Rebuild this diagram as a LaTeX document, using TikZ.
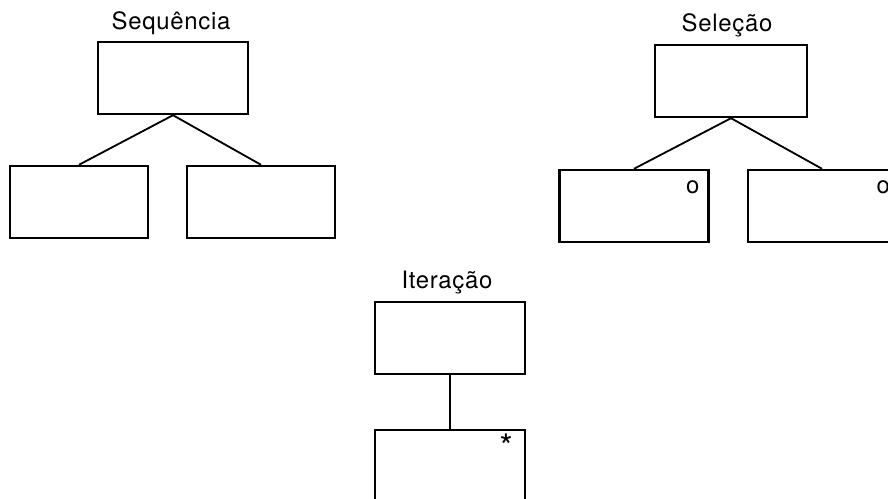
\documentclass[tikz,border=0pt]{standalone}
\usepackage{fontspec}
\setmainfont{TeX Gyre Heros}

\tikzset{
  modulo/.style={draw,line width=1.7pt,minimum width=3.75cm,minimum height=1.8cm,inner sep=0pt},
  ligacao/.style={line width=1.3pt},
  titulo/.style={anchor=base,inner sep=0pt,font=\fontsize{17}{20}\selectfont\addfontfeature{LetterSpace=3}},
  marca/.style={inner sep=0pt,font=\fontsize{17}{20}\selectfont}
}

\begin{document}
\begin{tikzpicture}[x=0.025cm,y=-0.025cm]
        \useasboundingbox (0,0) rectangle (888,499);
        \clip (0,0) rectangle (888,499);

        % Sequencia
        \node[titulo] (tseq) at (171,30) {Sequência};
        \node[modulo] (seq) at (173,78) {};
        \node[modulo,minimum width=3.45cm] (seq1) at (79,202) {};
        \node[modulo,minimum width=3.7cm] (seq2) at (261,202) {};
        \draw[ligacao] (seq.south) -- (seq1.north);
        \draw[ligacao] (seq.south) -- (seq2.north);

        % Selecao
        \node[titulo] (tsel) at (727,32) {Seleção};
        \node[modulo,minimum width=3.8cm] (sel) at (731,81) {};
        \node[modulo,minimum width=3.725cm] (sel1) at (634,206) {};
        \node[modulo,minimum width=3.7cm] (sel2) at (822,206) {};
        \draw[ligacao] (sel.south) -- (sel1.north);
        \draw[ligacao] (sel.south) -- (sel2.north);
        \node[marca] (osel1) at ([shift={(-17,18)}]sel1.north east) {o};
        \node[marca] (osel2) at ([shift={(-14,18)}]sel2.north east) {o};

        % Iteracao
        \node[titulo] (tit) at (447,288) {Iteração};
        \node[modulo] (it) at (450,338) {};
        \node[modulo] (it1) at (450,466) {};
        \draw[ligacao] (it.south) -- (it1.north);
        \node[marca,font=\fontsize{24}{24}\selectfont] (ast) at ([shift={(-20,17)}]it1.north east) {*};
\end{tikzpicture}
\end{document}
